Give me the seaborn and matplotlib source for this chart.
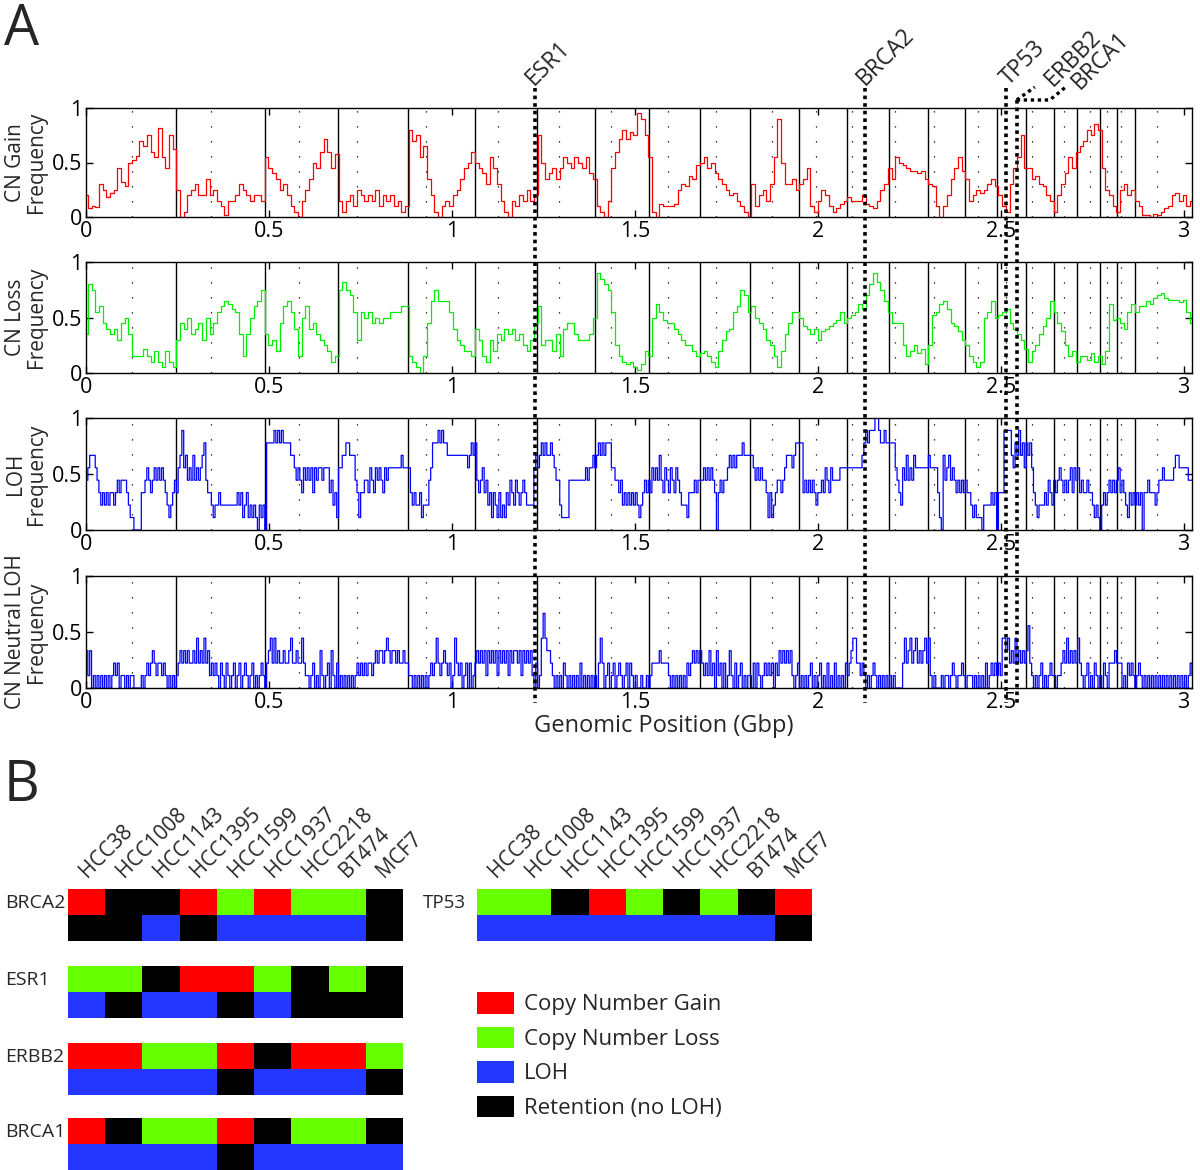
import numpy as np
import pandas as pd
import matplotlib
matplotlib.use("Agg")
import matplotlib.pyplot as plt
from matplotlib.colors import ListedColormap
from matplotlib.patches import Patch
import seaborn as sns

# ---------------- Panel A data ----------------
genome_len = 3.023  # Gbp, chr1..chrX laid end to end

chrom_ends = [0.247, 0.490, 0.690, 0.881, 1.062, 1.233, 1.392, 1.538, 1.678,
              1.814, 1.948, 2.081, 2.195, 2.301, 2.402, 2.490, 2.569, 2.645,
              2.709, 2.772, 2.819, 2.868]
centromeres = [0.125, 0.342, 0.583, 0.742, 0.930, 1.125, 1.292, 1.436, 1.590,
               1.721, 1.876, 1.995, 2.095, 2.211, 2.319, 2.439, 2.514, 2.587,
               2.673, 2.744, 2.792, 2.830, 2.927]

# copy number gain / loss frequency in percent, one value per ~0.01 Gbp
gain_pct = [
    20, 8, 10, 9, 30, 25, 18, 22, 25, 45,
    32, 28, 50, 52, 56, 70, 65, 75, 60, 55,
    82, 55, 45, 75, 62, 25, 0, 5, 20, 25,
    30, 20, 20, 35, 20, 25, 15, 10, 2, 15,
    15, 20, 30, 25, 20, 15, 20, 20, 15, 55,
    45, 40, 35, 25, 30, 20, 10, 5, 0, 15,
    25, 35, 50, 45, 60, 72, 60, 45, 58, 15,
    5, 15, 20, 10, 25, 20, 15, 20, 15, 25,
    10, 20, 15, 20, 10, 15, 5, 10, 80, 70,
    75, 55, 65, 35, 20, 5, 0, 10, 15, 10,
    20, 25, 35, 45, 50, 60, 50, 45, 40, 30,
    55, 45, 30, 15, 5, 0, 15, 10, 20, 15,
    25, 15, 20, 75, 50, 35, 40, 45, 35, 45,
    55, 50, 45, 55, 50, 45, 55, 40, 35, 10,
    5, 0, 15, 45, 60, 72, 80, 72, 78, 75,
    95, 90, 75, 55, 5, 0, 12, 10, 10, 10,
    12, 25, 30, 28, 38, 35, 48, 50, 55, 45,
    50, 40, 35, 30, 25, 20, 22, 15, 10, 5,
    0, 30, 10, 20, 25, 15, 30, 55, 90, 50,
    30, 30, 35, 25, 30, 35, 45, 10, 5, 15,
    25, 20, 10, 5, 8, 12, 15, 18, 15, 15,
    15, 20, 12, 10, 8, 15, 25, 30, 45, 35,
    55, 50, 48, 45, 42, 42, 40, 42, 35, 30,
    28, 10, 0, 10, 20, 35, 45, 55, 42, 35,
    15, 20, 25, 22, 25, 30, 35, 28, 20, 10,
    5, 30, 45, 55, 75, 45, 45, 35, 38, 30,
    28, 20, 15, 5, 20, 30, 40, 55, 45, 60,
    65, 70, 80, 75, 85, 80, 45, 25, 20, 10,
    5, 25, 30, 20, 25, 15, 10, 2, 2, 0,
    3, 2, 5, 8, 10, 20, 22, 15, 20, 10,
    15,
]

loss_pct = [
    35, 80, 75, 55, 60, 45, 40, 35, 40, 30,
    45, 50, 35, 15, 15, 15, 22, 15, 10, 20,
    10, 5, 20, 10, 5, 30, 45, 40, 50, 35,
    40, 45, 30, 50, 35, 45, 55, 60, 65, 62,
    58, 55, 35, 15, 35, 50, 60, 65, 75, 35,
    25, 30, 20, 45, 60, 65, 55, 40, 15, 50,
    60, 40, 45, 35, 30, 25, 20, 10, 15, 75,
    82, 75, 70, 55, 30, 55, 50, 55, 45, 50,
    45, 50, 50, 55, 55, 55, 60, 60, 15, 10,
    5, 0, 15, 45, 65, 75, 65, 65, 65, 55,
    40, 30, 25, 20, 20, 15, 40, 30, 15, 10,
    30, 20, 35, 30, 40, 35, 40, 30, 35, 25,
    20, 30, 45, 60, 25, 30, 30, 20, 35, 15,
    40, 45, 45, 35, 30, 30, 30, 35, 50, 90,
    85, 80, 75, 55, 25, 15, 10, 8, 10, 5,
    3, 8, 20, 15, 50, 62, 55, 48, 45, 45,
    40, 35, 30, 25, 25, 20, 15, 18, 20, 15,
    10, 5, 20, 30, 38, 40, 55, 60, 75, 70,
    55, 60, 50, 45, 40, 30, 25, 15, 5, 20,
    35, 45, 55, 55, 50, 42, 40, 35, 40, 30,
    38, 40, 42, 45, 48, 55, 45, 50, 52, 55,
    62, 58, 70, 80, 90, 82, 75, 65, 55, 45,
    45, 45, 25, 15, 20, 25, 18, 22, 8, 25,
    52, 55, 62, 65, 58, 45, 42, 38, 30, 25,
    15, 10, 5, 10, 50, 55, 65, 50, 52, 55,
    58, 45, 40, 35, 30, 22, 10, 20, 25, 35,
    42, 50, 65, 55, 45, 38, 25, 15, 20, 10,
    15, 15, 12, 18, 10, 15, 8, 20, 62, 48,
    50, 45, 40, 55, 62, 55, 60, 60, 65, 62,
    68, 70, 72, 68, 66, 66, 66, 64, 66, 55,
    45,
]

# number of the 9 cell lines with LOH, one digit per ~0.005 Gbp
n_lines = 9
loh_counts = (
    "45666543232323323434" "44321100003345434545" "45432123435685645464"
    "54567433212232222222" "22323123121210212077" "77878787777665454354"
    "54535455455534231556" "67766643133443543545" "43545555555655553232"
    "23122245777878776666" "66666665676743453423" "13213121324324323432"
    "22256567676676544211" "11444444444545565676" "76777554434232323232"
    "12343435454643543543" "54322213334344454545" "43034344565656667666"
    "66545454431312344345" "66656777734343432334" "35435444455555555555"
    "56787888998778777775" "43254645465555555655" "55310645645434343433"
    "21211102222323033388" "88657686757675321222" "32432434543434535453"
    "43343321210232343434" "53432132323230334333" "23445444445665555544"
    "4"
)
cnloh_counts = (
    "31301010101010121201" "10101100001012123212" "21210101012323232232"
    "42324231212102102101" "20120121012010121023" "42423223223422322421"
    "10120103101203102010" "10101012121212212323" "32343233232232211010"
    "10101012124212321201" "42120120201232323132" "32313232313233231323"
    "23102014643321010102" "10101010201010101024" "20120120121012021010"
    "01001012222322221010" "10101021232323212131" "20312020131020120101"
    "10202101212120213232" "32310120101012010120" "10201020101021234422"
    "12101012101010101010" "00024234234232342410" "10001011012101121011"
    "10101010201212121443" "42324232323521010120" "10121101123242323242"
    "10120102101021022232" "22010212101210101010" "10101010101010101012"
    "1"
)

gene_names = ["ESR1", "BRCA2", "TP53", "ERBB2", "BRCA1"]
gene_pos = [1.227, 2.128, 2.514, 2.544, 2.544]

# ---------------- Panel B data ----------------
cell_lines = ["HCC38", "HCC1008", "HCC1143", "HCC1395", "HCC1599",
              "HCC1937", "HCC2218", "BT474", "MCF7"]
brca2_cn = ["gain", "none", "none", "gain", "loss", "gain", "loss", "loss", "none"]
brca2_loh = ["ret", "ret", "LOH", "ret", "LOH", "LOH", "LOH", "LOH", "ret"]
esr1_cn = ["loss", "loss", "none", "gain", "gain", "loss", "none", "loss", "none"]
esr1_loh = ["LOH", "ret", "LOH", "LOH", "ret", "LOH", "ret", "ret", "ret"]
erbb2_cn = ["gain", "gain", "loss", "loss", "gain", "none", "gain", "gain", "loss"]
erbb2_loh = ["LOH", "LOH", "LOH", "LOH", "ret", "LOH", "LOH", "LOH", "ret"]
brca1_cn = ["gain", "none", "loss", "loss", "gain", "none", "loss", "loss", "none"]
brca1_loh = ["LOH", "LOH", "LOH", "LOH", "ret", "LOH", "LOH", "LOH", "LOH"]
tp53_cn = ["loss", "loss", "none", "gain", "loss", "none", "loss", "none", "gain"]
tp53_loh = ["LOH", "LOH", "LOH", "LOH", "LOH", "LOH", "LOH", "LOH", "ret"]

legend_labels = ["Copy Number Gain", "Copy Number Loss", "LOH", "Retention (no LOH)"]
state_colors = ["#ff0000", "#66ff00", "#2337ff", "#000000"]
state_code = {"gain": 0, "loss": 1, "LOH": 2, "ret": 3, "none": 3}

# ---------------- figure ----------------
sns.set_theme(style="white")
plt.rcParams["font.family"] = ["Open Sans", "DejaVu Sans"]

W, H = 1200, 1170
fig = plt.figure(figsize=(12, 11.7), dpi=100)


def box(left, top, right, bottom):
    return [left / W, 1 - bottom / H, (right - left) / W, (bottom - top) / H]


def profile(values, scale):
    vals = np.asarray(values, dtype=float) / scale
    return pd.DataFrame({"pos": np.linspace(0, genome_len, len(vals)), "freq": vals})


gain_df = profile(gain_pct, 100)
loss_df = profile(loss_pct, 100)
loh_df = profile([int(c) for c in loh_counts], n_lines)
cnloh_df = profile([int(c) for c in cnloh_counts], n_lines)

tracks = [
    ("CN Gain\nFrequency", gain_df, "#ff0000", "steps-mid", 108, 217),
    ("CN Loss\nFrequency", loss_df, "#00ee00", "steps-mid", 262, 373),
    ("LOH\nFrequency", loh_df, "#0000ff", "steps-post", 418, 530),
    ("CN Neutral LOH\nFrequency", cnloh_df, "#0000ff", "steps-post", 576, 688),
]

xt = [0, 0.5, 1, 1.5, 2, 2.5, 3]
for label, df, color, ds, top, bottom in tracks:
    ax = fig.add_axes(box(86, top, 1192, bottom))
    sns.lineplot(data=df, x="pos", y="freq", ax=ax, color=color, lw=0.9,
                 estimator=None, drawstyle=ds)
    for e in chrom_ends:
        ax.axvline(e, color="black", lw=1.0, zorder=1)
    for c in centromeres:
        ax.axvline(c, color="black", lw=0.9, ls=(0, (1, 11)), zorder=1)
    ax.set_xlim(0, genome_len)
    ax.set_ylim(0, 1)
    ax.set_xticks(xt)
    ax.set_xticklabels(["0", "0.5", "1", "1.5", "2", "2.5", "3"])
    ax.set_yticks([0, 0.5, 1])
    ax.set_yticklabels(["0", "0.5", "1"])
    ax.tick_params(direction="in", length=5, width=1, top=True, right=True,
                   bottom=True, left=True, labelsize=15.5, pad=3, colors="black")
    ax.set_xlabel("")
    ax.set_ylabel(label, fontsize=15, labelpad=3, linespacing=1.0)
    for s in ax.spines.values():
        s.set_color("black")
        s.set_linewidth(1.0)

fig.text(664 / W, 1 - 726 / H, "Genomic Position (Gbp)", ha="center", va="center",
         fontsize=17)

# gene marker lines spanning all tracks (overlay in pixel rows)
ov = fig.add_axes([86 / W, 0, (1192 - 86) / W, 1])
ov.set_xlim(0, genome_len)
ov.set_ylim(H, 0)
ov.axis("off")
ov.set_zorder(10)
px = genome_len / (1192 - 86)  # Gbp per pixel
dots = (0, (1, 1.1))
line_top = {"ESR1": 88, "BRCA2": 88, "TP53": 88, "ERBB2": 100}
label_at = {"ESR1": (-1, 86), "BRCA2": (0, 86), "TP53": (3, 86),
            "ERBB2": (36, 87), "BRCA1": (63, 90)}
for name, pos in zip(gene_names, gene_pos):
    if name in line_top:
        ov.vlines(pos, line_top[name], 703, colors="black", lw=2.6, linestyles=dots)
    dx, ly = label_at[name]
    ov.text(pos + dx * px, ly, name, rotation=45, ha="left", va="baseline",
            rotation_mode="anchor", fontsize=16.5)
erbb2_x = gene_pos[3]
ov.plot([erbb2_x, erbb2_x + 18 * px], [100, 87], color="black", lw=2.4, ls=dots)
ov.plot([erbb2_x, erbb2_x + 33 * px, erbb2_x + 49 * px], [100, 100, 87],
        color="black", lw=2.4, ls=dots)

# ---------------- Panel B ----------------
cmap = ListedColormap(state_colors)
blocks = [
    ("BRCA2", brca2_cn, brca2_loh, 68, 889, 5, True),
    ("ESR1", esr1_cn, esr1_loh, 68, 966, 5, False),
    ("ERBB2", erbb2_cn, erbb2_loh, 68, 1043, 5, False),
    ("BRCA1", brca1_cn, brca1_loh, 68, 1118, 5, False),
    ("TP53", tp53_cn, tp53_loh, 477, 889, 423, True),
]
for name, cn, loh, left, top, lab_x, show in blocks:
    ax = fig.add_axes(box(left, top, left + 335, top + 52))
    mat = pd.DataFrame([[state_code[v] for v in cn], [state_code[v] for v in loh]],
                       columns=cell_lines)
    sns.heatmap(mat, ax=ax, cmap=cmap, vmin=-0.5, vmax=3.5, cbar=False,
                xticklabels=cell_lines if show else False, yticklabels=False)
    if show:
        ax.xaxis.tick_top()
        ax.tick_params(axis="x", length=0, pad=8)
        for t in ax.get_xticklabels():
            t.set_rotation(45)
            t.set_ha("left")
            t.set_va("baseline")
            t.set_rotation_mode("anchor")
            t.set_fontsize(15)
    fig.text(lab_x / W, 1 - (top + 14) / H, name, ha="left", va="center",
             fontsize=14 if name != "TP53" else 13.5)

handles = [Patch(facecolor=c, edgecolor="none", label=l)
           for c, l in zip(state_colors, legend_labels)]
fig.legend(handles=handles, loc="upper left", bbox_to_anchor=(477 / W, 1 - 992 / H),
           frameon=False, fontsize=16, handlelength=1.67, handleheight=1.13,
           labelspacing=0.5, handletextpad=0.45, borderpad=0, borderaxespad=0)

fig.text(4 / W, 1 - 2 / H, "A", fontsize=40, va="top", ha="left")
fig.text(4 / W, 1 - 758 / H, "B", fontsize=40, va="top", ha="left")

fig.savefig("out.png", dpi=100)
